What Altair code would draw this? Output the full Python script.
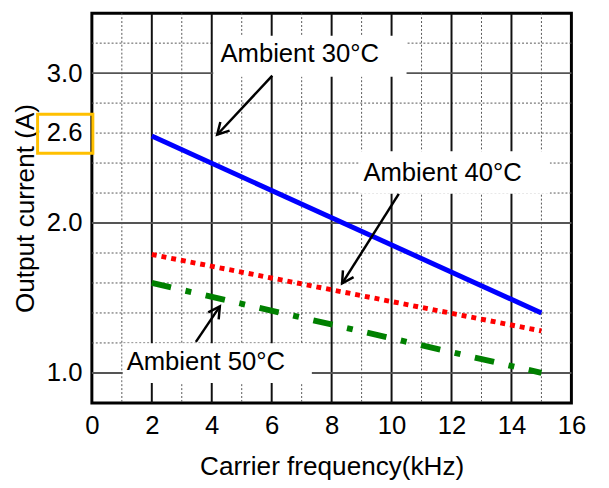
import math
import altair as alt
import pandas as pd

FONT = "Liberation Sans"

# ---- data ----
freq_start = [2, 2, 2]
freq_end = [15, 15, 15]
series = ["Ambient 30°C", "Ambient 40°C", "Ambient 50°C"]
current_start = [2.58, 1.79, 1.60]
current_end = [1.40, 1.28, 1.00]

x_ticks = [0, 2, 4, 6, 8, 10, 12, 14, 16]
y_ticks = [1.0, 2.0, 3.0, 2.6]
x_major = [2, 4, 6, 8, 10, 12, 14]
x_minor = [1, 3, 5, 7, 9, 11, 13, 15]
y_major = [1.0, 2.0, 3.0]
y_minor = [1.2, 1.4, 1.6, 1.8, 2.2, 2.4, 2.6, 2.8, 3.2]

# annotations (data coordinates)
ann_text = ["Ambient 30°C", "Ambient 40°C", "Ambient 50°C"]
ann_tx = [4.29, 9.06, 1.16]
ann_ty = [3.076, 2.282, 1.02]
box_x1 = [4.05, 8.95, 1.03]
box_x2 = [10.5, 15.28, 7.34]
box_y1 = [2.975, 2.196, 0.933]
box_y2 = [3.25, 2.479, 1.198]
arrow_tail_x = [6.02, 10.24, 3.47]
arrow_tail_y = [2.983, 2.194, 1.207]
arrow_tip_x = [4.18, 8.35, 4.27]
arrow_tip_y = [2.589, 1.597, 1.444]

W, H = 486, 395
XD = [0, 16]
YD = [0.8, 3.4]
PX_X = W / (XD[1] - XD[0])
PX_Y = H / (YD[1] - YD[0])

xs = alt.Scale(domain=XD, nice=False, zero=False)
ys = alt.Scale(domain=YD, nice=False, zero=False)

X_AXIS = alt.Axis(values=x_ticks, format="d", title="Carrier frequency(kHz)",
                  ticks=False, tickSize=0, domain=False, grid=False,
                  labelFont=FONT, labelFontSize=26, labelColor="black",
                  labelPadding=10, titleFont=FONT, titleFontSize=26.5,
                  titleFontWeight="normal", titleColor="black", titlePadding=16,
                  labelFlush=False)
Y_AXIS = alt.Axis(values=y_ticks, format=".1f", title="Output current (A)",
                  ticks=False, tickSize=0, domain=False, grid=False,
                  labelFont=FONT, labelFontSize=26, labelColor="black",
                  labelPadding=10, titleFont=FONT, titleFontSize=26.5,
                  titleFontWeight="normal", titleColor="black",
                  titleX=-59, titleBaseline="alphabetic",
                  labelFlush=False)

def X(field):
    return alt.X(field, scale=xs, axis=X_AXIS)

def Y(field):
    return alt.Y(field, scale=ys, axis=Y_AXIS)

rows = []
for s, x0, x1, y0, y1 in zip(series, freq_start, freq_end, current_start, current_end):
    rows.append({"series": s, "f": x0, "a": y0})
    rows.append({"series": s, "f": x1, "a": y1})
lines_df = pd.DataFrame(rows)

angles = []
for tx, ty, hx, hy in zip(arrow_tail_x, arrow_tail_y, arrow_tip_x, arrow_tip_y):
    dx = (hx - tx) * PX_X
    dy = -(hy - ty) * PX_Y
    angles.append(math.degrees(math.atan2(dx, -dy)) % 360)

ann_df = pd.DataFrame({
    "text": ann_text, "tx": ann_tx, "ty": ann_ty,
    "bx1": box_x1, "bx2": box_x2, "by1": box_y1, "by2": box_y2,
    "ax": arrow_tail_x, "ay": arrow_tail_y, "hx": arrow_tip_x, "hy": arrow_tip_y,
    "ang": angles,
})

def vrules(vals, color, width, dash=None):
    kw = dict(color=color, strokeWidth=width)
    if dash:
        kw["strokeDash"] = dash
    return alt.Chart(pd.DataFrame({"v": vals})).mark_rule(**kw).encode(x=X("v:Q"))

def hrules(vals, color, width, dash=None):
    kw = dict(color=color, strokeWidth=width)
    if dash:
        kw["strokeDash"] = dash
    return alt.Chart(pd.DataFrame({"v": vals})).mark_rule(**kw).encode(y=Y("v:Q"))

grid = (
    vrules(x_minor, "#555555", 1, [2, 2])
    + hrules(y_minor, "#555555", 1, [2, 2])
    + vrules(x_major, "#111111", 2)
    + hrules(y_major, "#555555", 2)
)

base_lines = alt.Chart(lines_df)

def series_line(name, color, width, dash=None):
    kw = dict(color=color, strokeWidth=width, strokeCap="butt")
    if dash:
        kw["strokeDash"] = dash
    return base_lines.transform_filter(alt.datum.series == name).mark_line(**kw).encode(
        x=X("f:Q"), y=Y("a:Q"))

lines = (
    series_line("Ambient 30°C", "#0000FF", 5)
    + series_line("Ambient 40°C", "#FF0000", 5, [5, 5])
    + series_line("Ambient 50°C", "#008000", 6, [20, 15, 6, 15])
)

ann = alt.Chart(ann_df)
boxes = ann.mark_rect(color="white").encode(
    x=X("bx1:Q"), x2="bx2:Q", y=Y("by1:Q"), y2="by2:Q")
texts = ann.mark_text(align="left", baseline="alphabetic", font=FONT, fontSize=26,
                      color="black").encode(
    x=X("tx:Q"), y=Y("ty:Q"), text="text:N")
shafts = ann.mark_rule(color="black", strokeWidth=2.5).encode(
    x=X("ax:Q"), y=Y("ay:Q"), x2="hx:Q", y2="hy:Q")
heads = ann.mark_point(shape="M-0.55,1L0,0L0.55,1", filled=False, color="black",
                       strokeWidth=2.5, size=540, opacity=1).encode(
    x=X("hx:Q"), y=Y("hy:Q"), angle=alt.Angle("ang:Q", scale=None))

hl_df = pd.DataFrame({"v": [2.6]})
highlight = alt.Chart(hl_df).transform_calculate(
    y1="datum.v + 0.125", y2="datum.v - 0.135"
).mark_rect(fill=None, stroke="#FFC000", strokeWidth=3, clip=False).encode(
    x=alt.value(-55), x2=alt.value(1), y=Y("y1:Q"), y2="y2:Q")

chart = alt.layer(grid, lines, boxes, texts, shafts, heads, highlight).properties(
    width=W, height=H,
    autosize="none",
    padding={"left": 85, "top": 2, "right": 30, "bottom": 82},
).configure_view(stroke="black", strokeWidth=3)

chart.save("out.html", embed_options={"renderer": "svg", "actions": False})
